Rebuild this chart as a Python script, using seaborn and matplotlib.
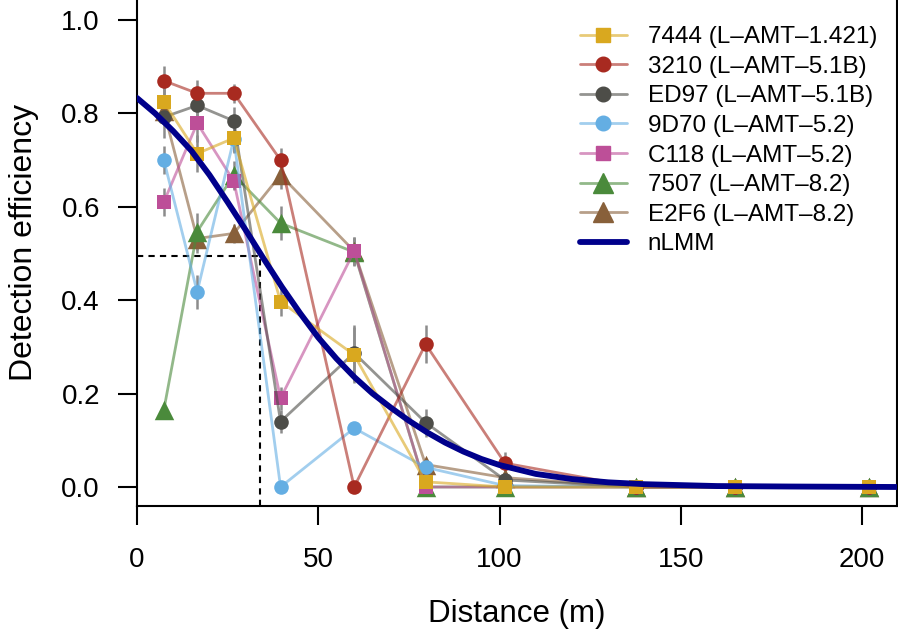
import matplotlib
matplotlib.use("Agg")
import matplotlib.pyplot as plt
from matplotlib.colors import to_rgba
from matplotlib.lines import Line2D
import numpy as np
import pandas as pd
import seaborn as sns

# Distances of the test stations (m)
distance = [7.4, 16.6, 26.7, 39.6, 59.9, 79.6, 101.5, 137.7, 165.0, 202.0]

# Detection efficiency per tag
eff_7444 = [0.825, 0.714, 0.747, 0.397, 0.283, 0.011, 0.0, 0.0, 0.0, 0.0]
eff_3210 = [0.870, 0.843, 0.843, 0.700, 0.0, 0.306, 0.051, 0.0, 0.0, 0.0]
eff_ed97 = [0.792, 0.817, 0.784, 0.140, 0.287, 0.138, 0.015, 0.0, 0.0, 0.0]
eff_9d70 = [0.700, 0.418, 0.745, 0.0, 0.126, 0.042, 0.003, 0.0, 0.0, 0.0]
eff_c118 = [0.610, 0.779, 0.655, 0.190, 0.505, 0.0, 0.0, 0.0, 0.0, 0.0]
eff_7507 = [0.165, 0.547, 0.668, 0.565, 0.503, 0.0, 0.0, 0.0, 0.0, 0.0]
eff_e2f6 = [0.805, 0.532, 0.543, 0.668, 0.505, 0.048, 0.020, 0.0, 0.0, 0.0]

# Half-length of the grey error bars
err_7444 = [0.040, 0.040, 0.030, 0.030, 0.060, 0.010, 0.0, 0.0, 0.0, 0.0]
err_3210 = [0.032, 0.028, 0.020, 0.025, 0.0, 0.040, 0.025, 0.0, 0.0, 0.0]
err_ed97 = [0.045, 0.030, 0.030, 0.025, 0.060, 0.030, 0.010, 0.0, 0.0, 0.0]
err_9d70 = [0.030, 0.037, 0.030, 0.0, 0.010, 0.010, 0.0, 0.0, 0.0, 0.0]
err_c118 = [0.030, 0.040, 0.020, 0.025, 0.030, 0.0, 0.0, 0.0, 0.0, 0.0]
err_7507 = [0.010, 0.040, 0.030, 0.037, 0.030, 0.0, 0.0, 0.0, 0.0, 0.0]
err_e2f6 = [0.030, 0.030, 0.020, 0.030, 0.030, 0.010, 0.0, 0.0, 0.0, 0.0]

tags = ["7444 (L–AMT–1.421)", "3210 (L–AMT–5.1B)", "ED97 (L–AMT–5.1B)",
        "9D70 (L–AMT–5.2)", "C118 (L–AMT–5.2)", "7507 (L–AMT–8.2)",
        "E2F6 (L–AMT–8.2)"]
values = [eff_7444, eff_3210, eff_ed97, eff_9d70, eff_c118, eff_7507, eff_e2f6]
errors = [err_7444, err_3210, err_ed97, err_9d70, err_c118, err_7507, err_e2f6]
colors = ["#D9A81F", "#A82A20", "#4D4D48", "#64AEE3", "#BD4F98", "#4A8A3B", "#88603A"]
markers = ["s", "o", "o", "o", "s", "^", "^"]
msizes = [10.5, 10.5, 10.5, 10.5, 10.5, 14, 14]

# nLMM fitted curve
curve_dist = [0, 5, 10, 15, 20, 25, 30, 35, 40, 45, 50, 55, 60, 65, 70, 75, 80,
              85, 90, 95, 100, 110, 120, 130, 140, 160, 180, 210]
curve_eff = [0.833, 0.800, 0.762, 0.720, 0.668, 0.610, 0.550, 0.488, 0.428,
             0.372, 0.320, 0.275, 0.235, 0.200, 0.170, 0.142, 0.117, 0.095,
             0.076, 0.060, 0.047, 0.028, 0.017, 0.010, 0.006, 0.002, 0.001, 0.0]

# distance at 50 % detection
d50 = 33.9
p50 = 0.495

sns.set_theme(style="ticks")
plt.rcParams["font.family"] = ["Liberation Sans", "DejaVu Sans"]
for key in ["text.color", "axes.labelcolor", "xtick.color", "ytick.color", "axes.edgecolor"]:
    plt.rcParams[key] = "black"

fig = plt.figure(figsize=(8.98, 6.32), dpi=100)
ax = fig.add_axes([137 / 898, 126 / 632, 759.5 / 898, 506 / 632])

ymin, ymax = -0.0407, 1.0428
ax.set_xlim(0, 209.5)
ax.set_ylim(ymin, ymax)

# draw in reverse order so the first tag ends up on top
for k in reversed(range(len(tags))):
    df = pd.DataFrame({"Distance": distance, "Eff": values[k], "Err": errors[k]})
    z = 3 + (len(tags) - k) * 0.1
    ax.errorbar(df["Distance"], df["Eff"], yerr=df["Err"], fmt="none",
                ecolor="#8c8c8c", elinewidth=1.8, capsize=0, zorder=2)
    sns.lineplot(data=df, x="Distance", y="Eff", color=colors[k], alpha=0.6,
                 linewidth=2.0, ax=ax, legend=False, zorder=z)
    sns.scatterplot(data=df, x="Distance", y="Eff", marker=markers[k],
                    s=msizes[k] ** 2, color=colors[k], linewidth=0, ax=ax,
                    legend=False, zorder=z + 0.05)

sns.lineplot(x=curve_dist, y=curve_eff, color="#00008B", linewidth=4.2, ax=ax,
             zorder=10)

ax.plot([0, d50], [p50, p50], color="black", linestyle=(0, (3, 2.5)), linewidth=1.5, zorder=1)
ax.plot([d50, d50], [ymin, p50], color="black", linestyle=(0, (3, 2.5)), linewidth=1.5, zorder=1)

ax.set_xticks([0, 50, 100, 150, 200])
ax.set_yticks([0.0, 0.2, 0.4, 0.6, 0.8, 1.0])
ax.set_yticklabels(["0.0", "0.2", "0.4", "0.6", "0.8", "1.0"])
ax.tick_params(axis="both", length=13.7, width=1.5, labelsize=20, color="black")
ax.tick_params(axis="x", pad=16)
ax.tick_params(axis="y", pad=13)
for s in ["left", "bottom", "right"]:
    ax.spines[s].set_linewidth(1.5)
ax.spines["top"].set_visible(False)

ax.set_xlabel("Distance (m)", fontsize=22.5)
ax.set_ylabel("Detection efficiency", fontsize=23)
ax.xaxis.set_label_coords(0.5, -0.183)
ax.yaxis.set_label_coords(-0.129, 0.52)

handles = []
for k in range(len(tags)):
    handles.append(Line2D([], [], color=to_rgba(colors[k], 0.6), linewidth=2.0,
                          marker=markers[k], markersize=msizes[k],
                          markerfacecolor=colors[k], markeredgecolor=colors[k]))
handles.append(Line2D([], [], color="#00008B", linewidth=4.2, solid_capstyle="round"))
labels = tags + ["nLMM"]
fig.legend(handles, labels, loc="upper left", bbox_to_anchor=(558 / 898, 0.993),
           frameon=False, fontsize=17.5, handlelength=1.93, handletextpad=0.86,
           labelspacing=0.31, borderpad=0.4)

fig.savefig("out.png", dpi=100)
